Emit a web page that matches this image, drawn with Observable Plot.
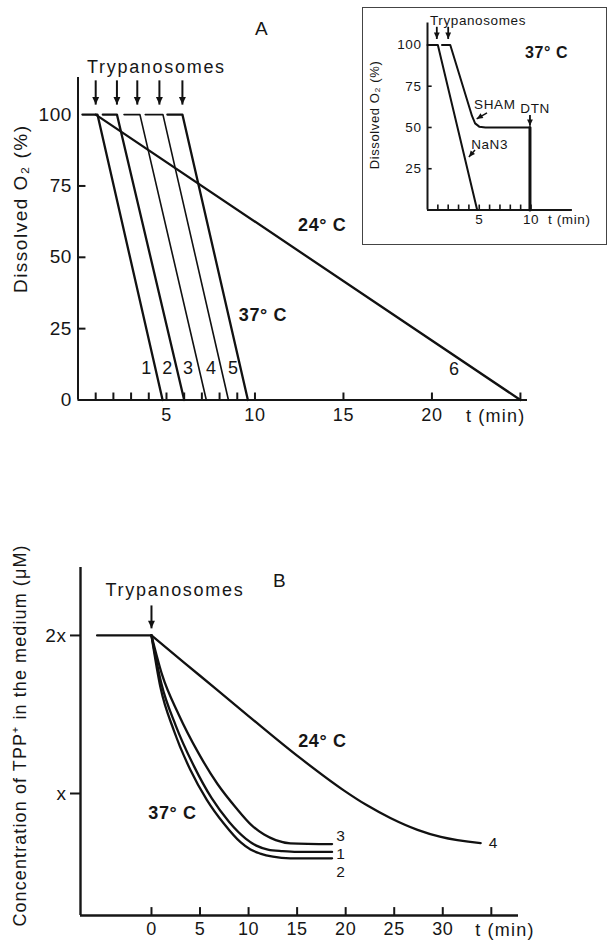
<!DOCTYPE html>
<html><head><meta charset="utf-8">
<script src="https://cdn.jsdelivr.net/npm/d3@7"></script>
<script src="https://cdn.jsdelivr.net/npm/@observablehq/plot@0.6"></script>
<style>
html,body{margin:0;padding:0;background:#fff;}
#root{position:relative;width:608px;height:940px;overflow:hidden;background:#fff;}
#root > svg{position:absolute;left:0;}
#inset{position:absolute;left:362px;top:7px;width:243px;height:236px;border:1.5px solid #444;background:#fff;z-index:2;}
#inset svg{position:absolute;left:0;top:0;}
</style></head><body><div id="root"></div>
<script>
// ---------- Panel A: dissolved O2 vs time ----------
const aTicksY = [0, 25, 50, 75, 100];
const aInnerTicksY = [25, 50, 75];
const aTickLabelsX = [5, 10, 15, 20];
const aMinorTicksX = [1, 2, 3, 4, 5, 6, 7, 8, 9, 10, 15, 20, 25];
const aLineIds = ["1", "2", "3", "4", "5", "6"];
const aLineT = [
  [0.25, 1.1, 4.78],
  [1.4, 2.2, 6.0],
  [2.6, 3.5, 7.25],
  [3.8, 4.8, 8.5],
  [5.05, 5.9, 9.6],
  [1.0, 25.0]
];
const aLineO2 = [
  [100, 100, 0],
  [100, 100, 0],
  [100, 100, 0],
  [100, 100, 0],
  [100, 100, 0],
  [100, 0]
];
const aThinLines = ["3", "4"];
const aArrowT = [1.0, 2.2, 3.35, 4.6, 5.9];
const aLineLabels = ["1", "2", "3", "4", "5", "6"];
const aLineLabelT = [3.87, 5.06, 6.24, 7.54, 8.78, 21.27];
const aLineLabelO2 = [11, 11, 11, 11, 11, 10.7];

// ---------- Inset ----------
const insTicksY = [25, 50, 75, 100];
const insInnerTicksY = [25, 50, 75];
const insTickLabelsX = [5, 10];
const insMinorTicksX = [1, 2, 3, 4, 5, 6, 7, 8, 9, 10];
const nan3T = [0, 1.0, 4.8];
const nan3O2 = [100, 100, 0];
const shamT = [1.4, 2.2, 4.3, 4.6, 5.0, 5.6, 9.9];
const shamO2 = [100, 100, 57, 52.5, 50.5, 50, 50];
const dtnT = [9.9, 9.9];
const dtnO2 = [50, 0];
const insArrowT = [0.9, 2.0];

// ---------- Panel B: TPP+ concentration ----------
const bTicksX = [0, 5, 10, 15, 20, 25, 30, 35];
const bTickLabelsX = [0, 5, 10, 15, 20, 25, 30];
const bTicksY = [1, 2];
const bTickLabelsY = ["x", "2x"];
const bPreT = [-5.6, 0];
const bPreC = [2, 2];
const b4T = [0, 5, 10, 15.3, 19.8, 22.2, 24.6, 27.4, 29.8, 33.9];
const b4C = [2, 1.745, 1.49, 1.225, 1.02, 0.925, 0.845, 0.77, 0.725, 0.686];
const b2T = [0, 0.93, 2.3, 4.0, 5.7, 7.45, 9.2, 10.2, 11.2, 12.5, 14.3, 18.6];
const b2C = [2, 1.67, 1.40, 1.15, 0.96, 0.81, 0.69, 0.645, 0.62, 0.60, 0.59, 0.59];
const b1T = [0, 1.0, 2.5, 4.4, 6.2, 8.0, 9.7, 10.8, 12.0, 13.5, 15.0, 18.6];
const b1C = [2, 1.70, 1.43, 1.17, 0.97, 0.82, 0.715, 0.67, 0.645, 0.635, 0.63, 0.63];
const b3T = [0, 1.1, 2.8, 4.8, 6.8, 8.7, 10.3, 11.6, 12.8, 14.3, 18.6];
const b3C = [2, 1.75, 1.50, 1.26, 1.06, 0.91, 0.80, 0.74, 0.705, 0.685, 0.68];
const bCurveLabels = ["3", "1", "2", "4"];
const bCurveLabelT = [19.5, 19.5, 19.5, 35.2];
const bCurveLabelC = [0.728, 0.62, 0.505, 0.684];

// ---------- helpers ----------
function series(ids, ts, vs) {
  const out = [];
  ids.forEach((id, i) => ts[i].forEach((t, j) => out.push({id, t, v: vs[i][j]})));
  return out;
}
function labels(texts, ts, vs) {
  return texts.map((label, i) => ({label, t: ts[i], v: vs[i]}));
}
// filled triangle whose tip is at the anchor point (pointing up before rotation)
const tipTriangle = {
  draw(ctx, size) {
    const h = Math.sqrt(size) * 1.45, w = h * 0.45;
    ctx.moveTo(0, 0); ctx.lineTo(w, h); ctx.lineTo(-w, h); ctx.closePath();
  }
};
function arrow(tail, tip, rotate, r, sw) {
  return [
    Plot.link([0], {x1: () => tail[0], y1: () => tail[1], x2: () => tip[0], y2: () => tip[1], strokeWidth: sw, stroke: "#111"}),
    Plot.dot([0], {x: () => tip[0], y: () => tip[1], symbol: tipTriangle, r, rotate, fill: "#111", stroke: "none"})
  ];
}
function spacing(chart, prefix, value) {
  d3.select(chart).selectAll("text")
    .filter(function() { return this.textContent.startsWith(prefix); })
    .attr("letter-spacing", value);
}
const FONT = "'Liberation Sans', Arial, Helvetica, sans-serif";
const baseStyle = (fs) => ({fontFamily: FONT, fontSize: fs + "px", color: "#161616", background: "transparent", overflow: "visible", letterSpacing: "0.6px"});

const root = document.getElementById("root");

// ================= Panel A =================
const aData = series(aLineIds, aLineT, aLineO2);
const aYTop = 113, aXRight = 25.4;
const chartA = Plot.plot({
  width: 608, height: 440,
  marginLeft: 77.5, marginRight: 81, marginTop: 77, marginBottom: 40.5,
  x: {domain: [0, aXRight]},
  y: {domain: [0, aYTop]},
  style: baseStyle(18),
  marks: [
    Plot.axisY({ticks: aTicksY, tickSize: 0, tickPadding: 6, label: null, fontSize: 19}),
    Plot.axisX({ticks: aTickLabelsX, tickSize: 0, tickPadding: 8, label: null, fontSize: 18}),
    Plot.ruleX([0], {y1: 0, y2: aYTop, strokeWidth: 2}),
    Plot.ruleY([0], {x1: 0, x2: aXRight, strokeWidth: 2}),
    Plot.ruleY(aInnerTicksY, {x1: 0, x2: 0.45, strokeWidth: 2}),
    Plot.ruleX(aMinorTicksX, {y1: 0, y2: 2.45, strokeWidth: 2}),
    Plot.line(aData.filter(d => !aThinLines.includes(d.id)), {x: "t", y: "v", z: "id", strokeWidth: 2.3, stroke: "#111"}),
    Plot.line(aData.filter(d => aThinLines.includes(d.id)), {x: "t", y: "v", z: "id", strokeWidth: 1.6, stroke: "#111"}),
    ...aArrowT.flatMap(t => arrow([t, 112], [t, 103.5], 180, 3, 2)),
    Plot.text(labels(aLineLabels, aLineLabelT, aLineLabelO2), {x: "t", y: "v", text: "label", fontSize: 18}),
    Plot.text(labels(["A"], [10.37], [130.2]), {x: "t", y: "v", text: "label", fontSize: 19}),
    Plot.text(labels(["Trypanosomes"], [4.43], [116.5]), {x: "t", y: "v", text: "label", fontSize: 18}),
    Plot.text(labels(["37° C", "24° C"], [10.45, 13.8], [29.6, 61.2]), {x: "t", y: "v", text: "label", fontSize: 18, fontWeight: "bold"}),
    Plot.text(labels(["t (min)"], [23.6], [-5.8]), {x: "t", y: "v", text: "label", fontSize: 18}),
    Plot.text(labels(["Dissolved O₂ (%)"], [-3.25], [67]), {x: "t", y: "v", text: "label", fontSize: 19, rotate: -90})
  ]
});
chartA.style.top = "0px";
root.appendChild(chartA);
spacing(chartA, "Trypanosomes", "1.7px");
spacing(chartA, "Dissolved", "1.5px");
spacing(chartA, "t (min)", "1.2px");

// ================= Panel B =================
const bBottom = 0.228, bTop = 2.43, bLeft = -7.31, bRight = 37.8;
const bData = series(["pre", "4", "2", "1", "3"], [bPreT, b4T, b2T, b1T, b3T], [bPreC, b4C, b2C, b1C, b3C]);
const chartB = Plot.plot({
  width: 608, height: 500,
  marginLeft: 80, marginRight: 90, marginTop: 127, marginBottom: 25,
  x: {domain: [bLeft, bRight]},
  y: {domain: [bBottom, bTop]},
  style: baseStyle(18),
  marks: [
    Plot.axisY({ticks: bTicksY, tickSize: 10, tickPadding: 4, strokeWidth: 2, label: null, fontSize: 19,
      tickFormat: v => bTickLabelsY[bTicksY.indexOf(v)]}),
    Plot.axisX({ticks: bTickLabelsX, tickSize: 0, tickPadding: 7, label: null, fontSize: 18}),
    Plot.ruleX([bLeft], {y1: bBottom, y2: bTop, strokeWidth: 2.4}),
    Plot.ruleY([bBottom], {x1: bLeft, x2: bRight, strokeWidth: 2.4}),
    Plot.ruleX(bTicksX, {y1: bBottom, y2: bBottom + 0.05, strokeWidth: 2}),
    Plot.line(bData, {x: "t", y: "v", z: "id", curve: "monotone-x", strokeWidth: 2.3, stroke: "#111"}),
    ...arrow([0, 2.19], [0, 2.045], 180, 3, 2),
    Plot.text(labels(bCurveLabels, bCurveLabelT, bCurveLabelC), {x: "t", y: "v", text: "label", fontSize: 15.5}),
    Plot.text(labels(["B"], [13.2], [2.348]), {x: "t", y: "v", text: "label", fontSize: 19}),
    Plot.text(labels(["Trypanosomes"], [2.42], [2.285]), {x: "t", y: "v", text: "label", fontSize: 18}),
    Plot.text(labels(["24° C", "37° C"], [17.6, 2.16], [1.33, 0.873]), {x: "t", y: "v", text: "label", fontSize: 18, fontWeight: "bold"}),
    Plot.text(labels(["t (min)"], [36.4], [0.133]), {x: "t", y: "v", text: "label", fontSize: 18}),
    Plot.text(labels(["Concentration of TPP⁺ in the medium (μM)"], [-13.5], [1.367]), {x: "t", y: "v", text: "label", fontSize: 18, rotate: -90})
  ]
});
chartB.style.top = "440px";
root.appendChild(chartB);
spacing(chartB, "Trypanosomes", "1.7px");
spacing(chartB, "Concentration", "1.1px");
spacing(chartB, "t (min)", "1.2px");

// ================= Inset =================
const inset = document.createElement("div");
inset.id = "inset";
root.appendChild(inset);
const iTop = 113.3, iRight = 14;
const iData = series(["nan3", "sham"], [nan3T, shamT], [nan3O2, shamO2]);
const iDtn = series(["dtn"], [dtnT], [dtnO2]);
const chartI = Plot.plot({
  width: 243, height: 236,
  marginLeft: 64, marginRight: 34.1, marginTop: 14.5, marginBottom: 34.5,
  x: {domain: [0, iRight]},
  y: {domain: [0, iTop]},
  style: baseStyle(13.5),
  marks: [
    Plot.axisY({ticks: insTicksY, tickSize: 0, tickPadding: 6, label: null, fontSize: 13.5}),
    Plot.axisX({ticks: insTickLabelsX, tickSize: 0, tickPadding: 4, label: null, fontSize: 13.5}),
    Plot.ruleX([0], {y1: 0, y2: iTop, strokeWidth: 2}),
    Plot.ruleY([0], {x1: 0, x2: iRight, strokeWidth: 2.2}),
    Plot.ruleY(insInnerTicksY, {x1: 0, x2: 0.45, strokeWidth: 1.6}),
    Plot.ruleX(insMinorTicksX, {y1: 0, y2: 3, strokeWidth: 1.6}),
    Plot.line(iData, {x: "t", y: "v", z: "id", strokeWidth: 2, stroke: "#111"}),
    Plot.line(iDtn, {x: "t", y: "v", z: "id", strokeWidth: 3, stroke: "#111"}),
    ...insArrowT.flatMap(t => arrow([t, 111], [t, 103.6], 180, 2.5, 1.8)),
    ...arrow([9.9, 57.6], [9.9, 51], 180, 2.5, 1.8),
    ...arrow([5.75, 58.8], [4.75, 55.2], 239, 2.4, 1.5),
    ...arrow([4.59, 36.4], [4.0, 32.1], 220, 2.4, 1.5),
    Plot.text(labels(["Trypanosomes"], [4.88], [114.5]), {x: "t", y: "v", text: "label", fontSize: 13.5}),
    Plot.text(labels(["SHAM", "DTN", "NaN3"], [6.5, 10.4, 6.0], [64, 61.5, 39.4]), {x: "t", y: "v", text: "label", fontSize: 13.5}),
    Plot.text(labels(["37° C"], [11.5], [95]), {x: "t", y: "v", text: "label", fontSize: 16, fontWeight: "bold"}),
    Plot.text(labels(["t (min)"], [13.7], [-6.1]), {x: "t", y: "v", text: "label", fontSize: 13.5}),
    Plot.text(labels(["Dissolved O₂ (%)"], [-5.07], [57.6]), {x: "t", y: "v", text: "label", fontSize: 13, rotate: -90})
  ]
});
inset.appendChild(chartI);
</script></body></html>
